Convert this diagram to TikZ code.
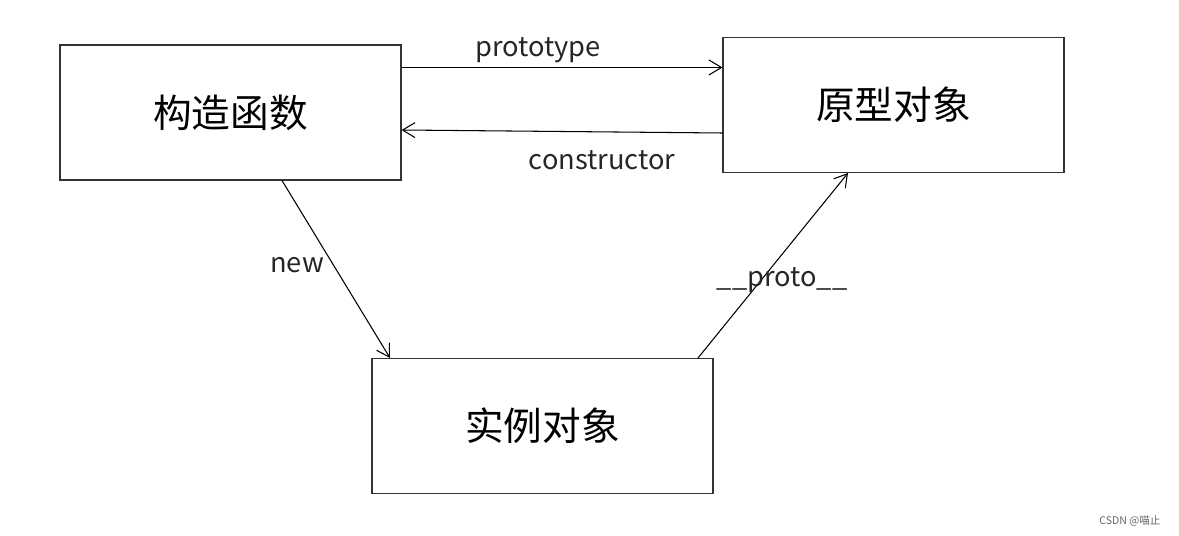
\documentclass[tikz,border=0pt]{standalone}
\usepackage{fontspec}
\setmainfont{Noto Sans CJK SC}
\usetikzlibrary{arrows.meta, positioning}
\begin{document}
\begin{tikzpicture}[
        > = {Straight Barb[length=2.5mm, width=3mm]},
        semithick,
        box/.style = {draw = black!80, minimum width = 6.82cm, minimum height = 2.7cm, font = \fontsize{22}{26}\selectfont},
        lbl/.style = {font = \fontsize{15.5}{18}\selectfont, text = black!85}
    ]
    \useasboundingbox (0,0) rectangle (23.58,-10.72);

    \node[box] (ctor) at (4.61,-2.25) {构造函数};
    \node[box] (proto) at (17.87,-2.10) {原型对象};
    \node[box] (inst) at (10.85,-8.52) {实例对象};

    \coordinate (p1) at ([yshift=-0.46cm]ctor.north east);
    \draw[->] (p1) -- (p1 -| proto.west);
    \node[lbl] (lproto) at (10.76,-1.0) {prototype};

    \draw[->] ([yshift=-0.56cm]proto.west) -- ([yshift=-0.35cm]ctor.east);
    \node[lbl] (lctor) at (12.04,-3.2) {constructor};

    \draw[->] ([xshift=1.03cm]ctor.south) -- ([xshift=-3.05cm]inst.north);
    \node[lbl] (lnew) at (5.94,-5.3) {new};

    \draw[->] ([xshift=3.11cm]inst.north) -- ([xshift=-0.91cm]proto.south);
    \node[lbl] (lpp) at (15.64,-5.6) {\_\_proto\_\_};

    \node[font=\fontsize{6}{7}\selectfont, text=black!60] (mark) at (22.6,-10.42) {CSDN @喵止};
\end{tikzpicture}
\end{document}
